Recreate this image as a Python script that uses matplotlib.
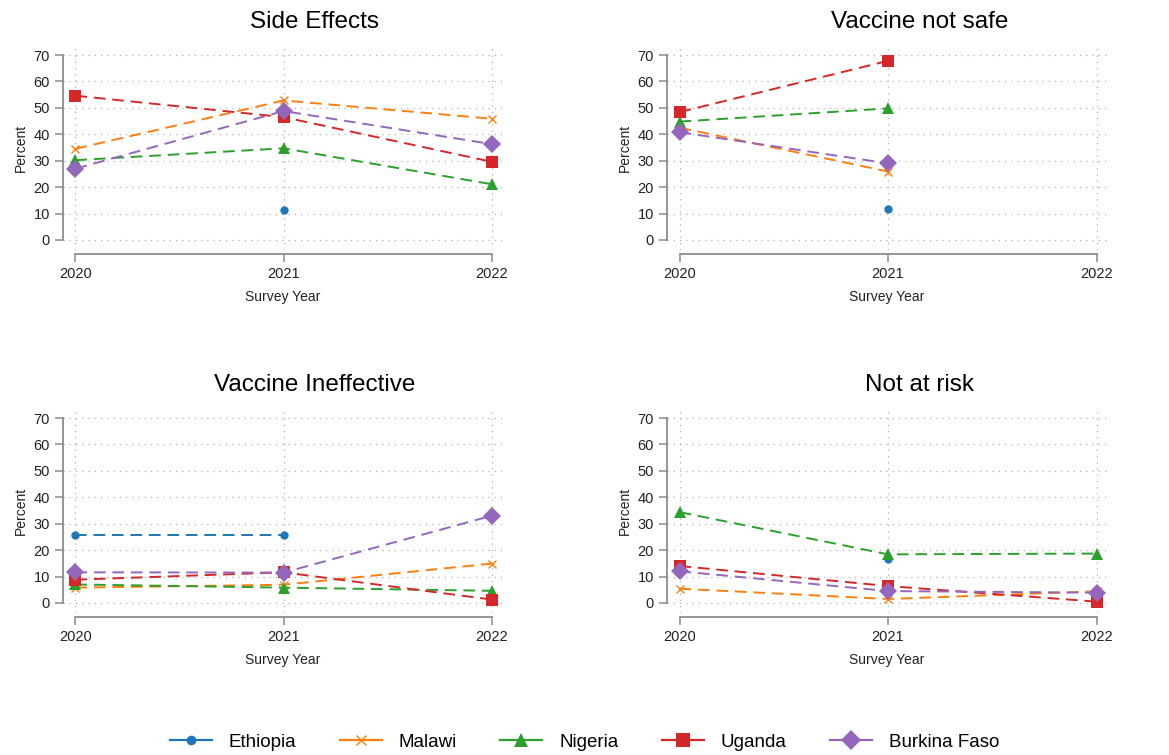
import numpy as np
import matplotlib
matplotlib.use("Agg")
import matplotlib.pyplot as plt
from matplotlib.lines import Line2D

nan = np.nan
years = [2020, 2021, 2022]
countries = ["Ethiopia", "Malawi", "Nigeria", "Uganda", "Burkina Faso"]
titles = ["Side Effects", "Vaccine not safe", "Vaccine Ineffective", "Not at risk"]

# percent per country, per panel (2020, 2021, 2022)
side_effects = {
    "Ethiopia": [nan, 11.5, nan],
    "Malawi": [34.5, 52.8, 45.9],
    "Nigeria": [30.2, 34.7, 21.1],
    "Uganda": [54.6, 46.5, 29.6],
    "Burkina Faso": [27.0, 48.8, 36.3],
}
not_safe = {
    "Ethiopia": [nan, 11.6, nan],
    "Malawi": [42.5, 25.9, nan],
    "Nigeria": [44.8, 49.8, nan],
    "Uganda": [48.4, 67.8, nan],
    "Burkina Faso": [40.8, 29.0, nan],
}
ineffective = {
    "Ethiopia": [25.9, 25.9, nan],
    "Malawi": [5.8, 6.9, 14.9],
    "Nigeria": [7.0, 5.8, 4.6],
    "Uganda": [8.8, 11.6, 1.3],
    "Burkina Faso": [11.6, 11.5, 33.0],
}
not_at_risk = {
    "Ethiopia": [nan, 16.7, nan],
    "Malawi": [5.4, 1.5, 4.4],
    "Nigeria": [34.4, 18.4, 18.7],
    "Uganda": [14.0, 6.4, 0.5],
    "Burkina Faso": [12.0, 4.5, 3.9],
}
panels = [side_effects, not_safe, ineffective, not_at_risk]

colors = {"Ethiopia": "#1f77b4", "Malawi": "#ff7f0e", "Nigeria": "#2ca02c",
          "Uganda": "#d62728", "Burkina Faso": "#9467bd"}
markers = {"Ethiopia": ("o", 6), "Malawi": ("x", 6), "Nigeria": ("^", 9),
           "Uganda": ("s", 9), "Burkina Faso": ("D", 9)}

plt.rcParams["font.family"] = ["Liberation Sans", "DejaVu Sans"]

W, H = 1169, 755
fig = plt.figure(figsize=(W / 100, H / 100), dpi=100)

# axes boxes in pixels: (left, top, right, bottom)
boxes = [(63, 45, 502, 250), (667, 45, 1107, 250),
         (63, 408, 502, 613), (667, 408, 1107, 613)]

grey = "#8c8c8c"
for box, title, data in zip(boxes, titles, panels):
    l, t, r, b = box
    ax = fig.add_axes([l / W, 1 - b / H, (r - l) / W, (b - t) / H])
    for c in countries:
        m, ms = markers[c]
        ax.plot(years, data[c], color=colors[c], linestyle=(0, (6, 3.5)), lw=1.4,
                marker=m, markersize=ms, markeredgewidth=1.0 if m == "x" else 0,
                clip_on=False, zorder=3)
    ax.set_xlim(2019.94, 2022.05)
    ax.set_ylim(-3.8, 73.8)
    ax.set_yticks(range(0, 71, 10))
    ax.set_xticks(years)
    ax.grid(True, linestyle=(0, (1, 4)), color="#b0b0b0", lw=0.9)
    for s in ["top", "right"]:
        ax.spines[s].set_visible(False)
    ax.spines["left"].set_bounds(0, 70)
    ax.spines["bottom"].set_bounds(2020, 2022)
    ax.spines["bottom"].set_position(("outward", 3))
    for s in ["left", "bottom"]:
        ax.spines[s].set_color(grey)
        ax.spines[s].set_linewidth(1.3)
    ax.tick_params(axis="both", color=grey, width=1.1, length=6, labelsize=10.5,
                   labelcolor="#222222")
    ax.set_ylabel("Percent", fontsize=10, color="#222222", labelpad=4)
    ax.set_xlabel("Survey Year", fontsize=10, color="#222222", labelpad=6)
    ax.set_title(title, fontsize=17.5, x=0.574, pad=12)

handles = [Line2D([0], [0], color=colors[c], lw=1.6, marker=markers[c][0],
                  markersize=markers[c][1] + 1,
                  markeredgewidth=1.0 if markers[c][0] == "x" else 0)
           for c in countries]
fig.legend(handles, countries, loc="center", bbox_to_anchor=(0.5, 1 - 742 / H),
           ncol=5, frameon=False, fontsize=13.5, handlelength=2.25,
           columnspacing=2.3, handletextpad=0.9)

fig.savefig("out.png", dpi=100)
